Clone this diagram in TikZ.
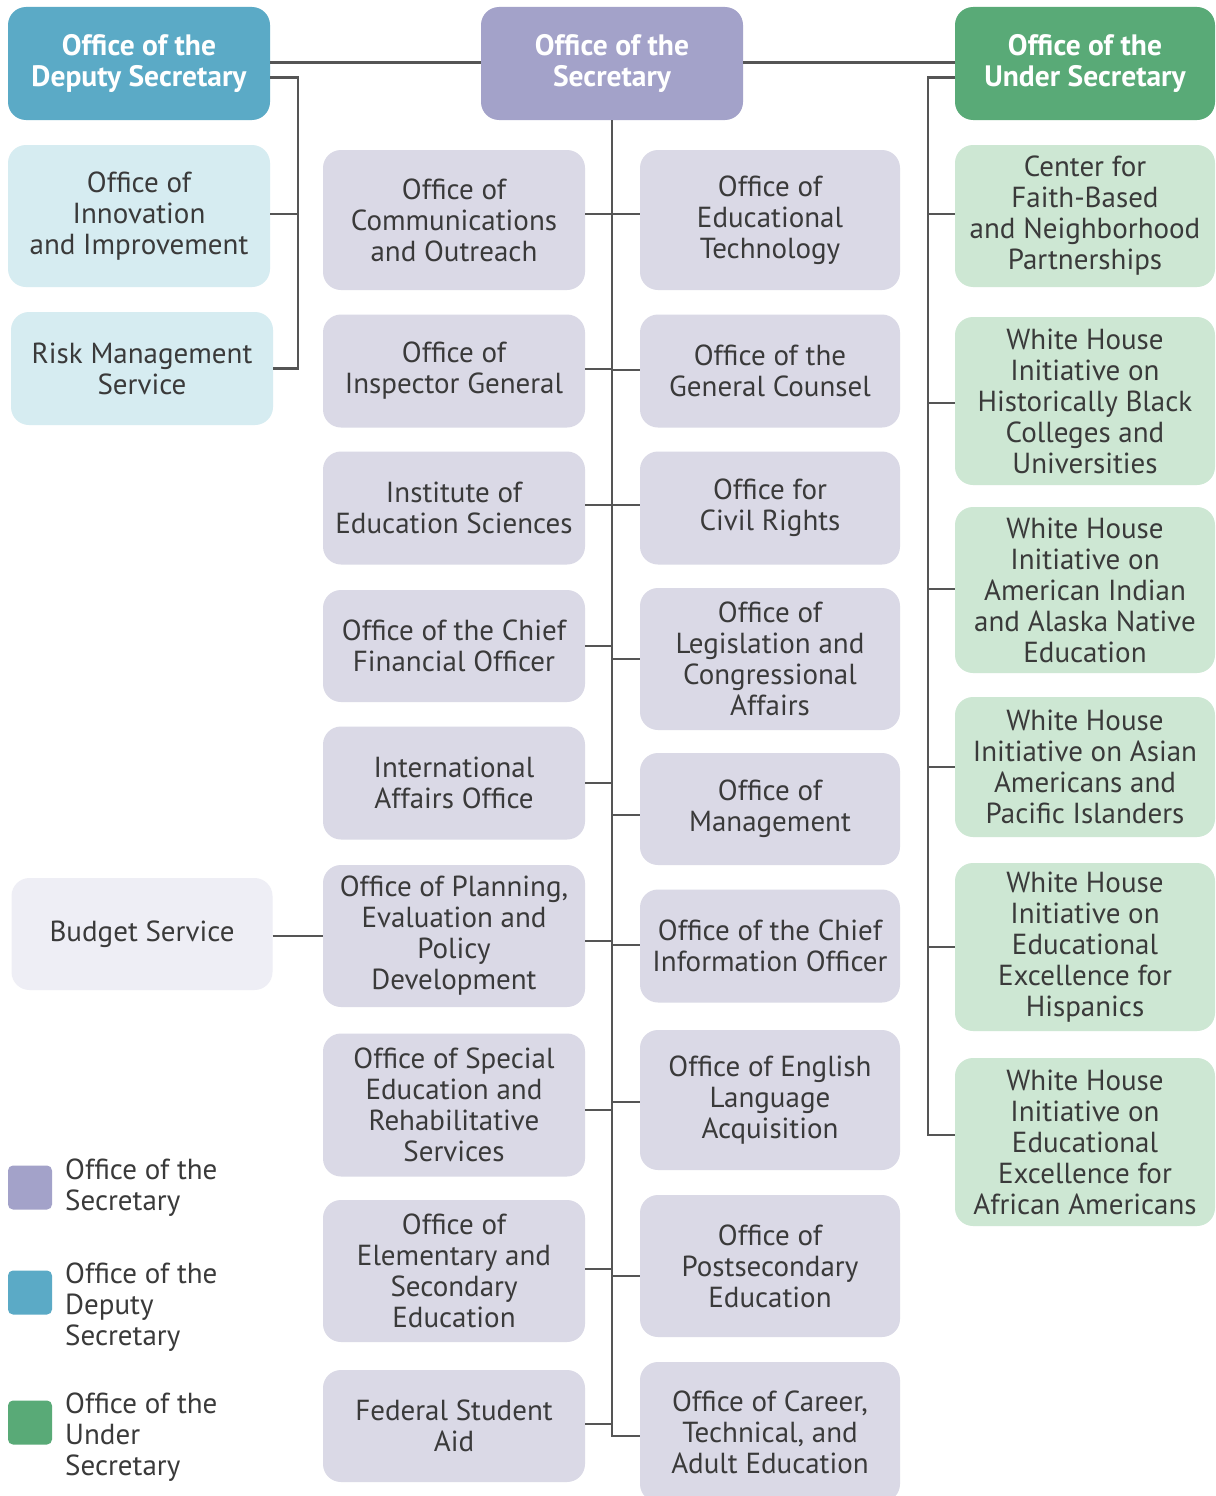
\documentclass[tikz,border=0pt]{standalone}
\usepackage{fontspec}
\setmainfont{PT Sans}
\definecolor{secH}{HTML}{A3A2C9}
\definecolor{depH}{HTML}{5BAAC6}
\definecolor{undH}{HTML}{59AA77}
\definecolor{secL}{HTML}{DAD9E6}
\definecolor{depL}{HTML}{D6ECF1}
\definecolor{undL}{HTML}{CDE7D3}
\definecolor{budL}{HTML}{EEEEF5}
\definecolor{txt}{HTML}{3A3A3A}
\definecolor{ln}{HTML}{555555}
\tikzset{
  box/.style={rounded corners=18pt, align=center, text=txt, inner sep=0pt,
    font=\fontsize{29}{31}\selectfont},
  head/.style={box, text=white, font=\bfseries\fontsize{29.5}{31}\selectfont, minimum height=113pt},
  sbox/.style={box, fill=secL, minimum width=262pt},
  dbox/.style={box, fill=depL, minimum width=262pt},
  ubox/.style={box, fill=undL, minimum width=260pt},
  conn/.style={draw=ln, line width=2.5pt},
  legsq/.style={rounded corners=5pt, minimum width=44pt, minimum height=44pt, inner sep=0pt},
  legtx/.style={anchor=west, align=left, text=txt, inner sep=0pt, font=\fontsize{29}{31}\selectfont}
}
\begin{document}
\begin{tikzpicture}[x=1pt, y=-1pt]
\useasboundingbox[fill=white] (0,0) rectangle (1215,1496);
% headers
\node[head, fill=depH, minimum width=262pt] (dep) at (139,63.5) {Office of the\\Deputy Secretary};
\node[head, fill=secH, minimum width=262pt] (sec) at (612,63.5) {Office of the\\Secretary};
\node[head, fill=undH, minimum width=260pt] (und) at (1085,63.5) {Office of the\\Under Secretary};
% deputy branch
\node[dbox, minimum height=142pt] (innov) at (139,216) {Office of\\Innovation\\and Improvement};
\node[dbox, minimum height=113pt] (risk) at (142,368.5) {Risk Management\\Service};
\node[box, fill=budL, minimum width=261pt, minimum height=112pt] (budget) at (142,934) {Budget Service};
% secretary left column
\node[sbox, minimum height=140pt] (comm) at (454,220) {Office of\\Communications\\and Outreach};
\node[sbox, minimum height=113pt] (insp) at (454,371) {Office of\\Inspector General};
\node[sbox, minimum height=113pt] (ies) at (454,508) {Institute of\\Education Sciences};
\node[sbox, minimum height=112pt] (cfo) at (454,646) {Office of the Chief\\Financial Officer};
\node[sbox, minimum height=113pt] (intl) at (454,783) {International\\Affairs Office};
\node[sbox, minimum height=142pt] (plan) at (454,936) {Office of Planning,\\Evaluation and\\Policy\\Development};
\node[sbox, minimum height=143pt] (sped) at (454,1105) {Office of Special\\Education and\\Rehabilitative\\Services};
\node[sbox, minimum height=142pt] (elem) at (454,1271) {Office of\\Elementary and\\Secondary\\Education};
\node[sbox, minimum height=112pt] (fsa) at (454,1426) {Federal Student\\Aid};
% secretary right column
\node[sbox, minimum width=260pt, minimum height=140pt] (edtech) at (770,220) {Office of\\Educational\\Technology};
\node[sbox, minimum width=260pt, minimum height=113pt] (gc) at (770,371) {Office of the\\General Counsel};
\node[sbox, minimum width=260pt, minimum height=113pt] (ocr) at (770,508) {Office for\\Civil Rights};
\node[sbox, minimum width=260pt, minimum height=142pt] (leg) at (770,659) {Office of\\Legislation and\\Congressional\\Affairs};
\node[sbox, minimum width=260pt, minimum height=112pt] (mgmt) at (770,809) {Office of\\Management};
\node[sbox, minimum width=260pt, minimum height=113pt] (cio) at (770,946) {Office of the Chief\\Information Officer};
\node[sbox, minimum width=260pt, minimum height=140pt] (ela) at (770,1100) {Office of English\\Language\\Acquisition};
\node[sbox, minimum width=260pt, minimum height=142pt] (pse) at (770,1266) {Office of\\Postsecondary\\Education};
\node[sbox, minimum width=260pt, minimum height=140pt] (cte) at (770,1432) {Office of Career,\\Technical, and\\Adult Education};
% under secretary column
\node[ubox, minimum height=142pt] (cfb) at (1085,216) {Center for\\Faith-Based\\and Neighborhood\\Partnerships};
\node[ubox, minimum height=168pt] (hbcu) at (1085,401) {White House\\Initiative on\\Historically Black\\Colleges and\\Universities};
\node[ubox, minimum height=166pt] (aian) at (1085,590) {White House\\Initiative on\\American Indian\\and Alaska Native\\Education};
\node[ubox, minimum height=140pt] (aapi) at (1085,767) {White House\\Initiative on Asian\\Americans and\\Pacific Islanders};
\node[ubox, minimum height=168pt] (hisp) at (1085,947) {White House\\Initiative on\\Educational\\Excellence for\\Hispanics};
\node[ubox, minimum height=168pt] (afam) at (1085,1142) {White House\\Initiative on\\Educational\\Excellence for\\African Americans};
% bus coordinates
\coordinate (dx) at (298,0);
\coordinate (tx) at (612,0);
\coordinate (ux) at (928,0);
% top connectors
\draw[conn] ([yshift=1pt]dep.east) -- ([yshift=1pt]sec.west);
\draw[conn] ([yshift=1pt]sec.east) -- ([yshift=1pt]und.west);
% deputy bus
\draw[conn] ([yshift=-14pt]dep.east) -| (risk.east -| dx) -- (risk.east);
\draw[conn] ([yshift=2pt]innov.east) -- ([yshift=2pt]innov.east -| dx);
\draw[conn] (budget.east |- plan.west) -- (plan.west);
% secretary trunk
\draw[conn] (sec.south) -- ([yshift=-4pt]cte.west -| tx) -- ([yshift=-4pt]cte.west);
\foreach \n/\s in {comm/6,insp/2,ies/3,cfo/0,intl/0,plan/-5,sped/-5,elem/2,fsa/2}{
  \draw[conn] ([yshift=\s pt]\n.east) -- ([yshift=\s pt]\n.east -| tx);
}
\foreach \n/\s in {edtech/6,gc/1,ocr/3,leg/0,mgmt/-6,cio/1,ela/-2,pse/-10}{
  \draw[conn] ([yshift=\s pt]\n.west) -- ([yshift=\s pt]\n.west -| tx);
}
% under secretary bus
\draw[conn] ([yshift=-14pt]und.west) -| ([yshift=7pt]afam.west -| ux) -- ([yshift=7pt]afam.west);
\foreach \n/\s in {cfb/2,hbcu/-2,aian/1,aapi/0,hisp/0}{
  \draw[conn] ([yshift=\s pt]\n.west) -- ([yshift=\s pt]\n.west -| ux);
}
% legend
\node[legsq, fill=secH] (lg1) at (30,1187.5) {};
\node[legtx] (lt1) at (65,1187.5) {Office of the\\Secretary};
\node[legsq, fill=depH] (lg2) at (30,1292.5) {};
\node[legtx] (lt2) at (65,1307) {Office of the\\Deputy\\Secretary};
\node[legsq, fill=undH] (lg3) at (30,1422.5) {};
\node[legtx] (lt3) at (65,1437) {Office of the\\Under\\Secretary};
\end{tikzpicture}
\end{document}
